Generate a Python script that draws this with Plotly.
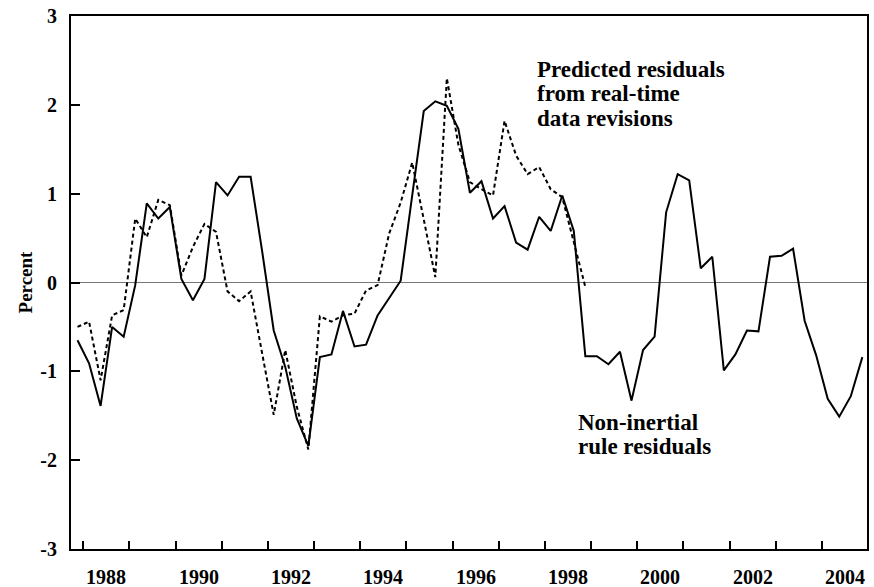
import plotly.graph_objects as go

# Quarterly observations
quarters = (["1987Q4"] +
            [f"{y}Q{q}" for y in range(1988, 2005) for q in range(1, 5)])

non_inertial = [
    -0.65,
    -0.91, -1.39, -0.50, -0.61,   # 1988
    -0.03, 0.89, 0.72, 0.85,      # 1989
    0.04, -0.20, 0.04, 1.13,      # 1990
    0.98, 1.19, 1.19, 0.35,       # 1991
    -0.54, -0.95, -1.53, -1.84,   # 1992
    -0.84, -0.81, -0.32, -0.72,   # 1993
    -0.70, -0.37, -0.17, 0.02,    # 1994
    0.98, 1.93, 2.04, 1.99,       # 1995
    1.73, 1.01, 1.14, 0.72,       # 1996
    0.86, 0.45, 0.37, 0.74,       # 1997
    0.58, 0.98, 0.58, -0.83,      # 1998
    -0.83, -0.92, -0.78, -1.33,   # 1999
    -0.76, -0.61, 0.79, 1.22,     # 2000
    1.15, 0.16, 0.29, -0.99,      # 2001
    -0.81, -0.54, -0.55, 0.29,    # 2002
    0.30, 0.38, -0.43, -0.82,     # 2003
    -1.31, -1.51, -1.28, -0.84,   # 2004
]

predicted = [
    -0.50,
    -0.44, -1.10, -0.37, -0.31,   # 1988
    0.72, 0.51, 0.93, 0.87,       # 1989
    0.08, 0.40, 0.66, 0.57,       # 1990
    -0.10, -0.21, -0.10, -0.80,   # 1991
    -1.49, -0.76, -1.40, -1.88,   # 1992
    -0.38, -0.44, -0.37, -0.35,   # 1993
    -0.09, -0.03, 0.55, 0.90,     # 1994
    1.35, 0.71, 0.06, 2.30,       # 1995
    1.55, 1.13, 1.05, 0.98,       # 1996
    1.82, 1.43, 1.22, 1.30,       # 1997
    1.05, 0.96, 0.45, -0.05,      # 1998
]

year_ticks = list(range(1988, 2005))
label_years = [1988, 1990, 1992, 1994, 1996, 1998, 2000, 2002, 2004]
y_ticks = [-3, -2, -1, 0, 1, 2, 3]

pred_label = ["Predicted residuals", "from real-time", "data revisions"]
pred_label_y = [2.40, 2.13, 1.85]
rule_label = ["Non-inertial", "rule residuals"]
rule_label_y = [-1.575, -1.845]


def to_decimal(q):
    year, qq = q.split("Q")
    return int(year) + (int(qq) - 0.5) / 4


x_all = [to_decimal(q) for q in quarters]
x_pred = x_all[:len(predicted)]

FONT = "Liberation Serif"
TXT = dict(family=FONT, size=23, color="black", weight="bold")

fig = go.Figure()
fig.add_trace(go.Scatter(
    x=x_all, y=non_inertial, mode="lines",
    line=dict(color="black", width=2),
    name="Non-inertial rule residuals", showlegend=False))
fig.add_trace(go.Scatter(
    x=x_pred, y=predicted, mode="lines",
    line=dict(color="black", width=2, dash="4px,3px"),
    name="Predicted residuals", showlegend=False))

for txt, yy in zip(pred_label, pred_label_y):
    fig.add_annotation(x=1997.78, y=yy, xref="x", yref="y",
                       xanchor="left", yanchor="middle", showarrow=False,
                       text=txt, font=TXT)
for txt, yy in zip(rule_label, rule_label_y):
    fig.add_annotation(x=1998.67, y=yy, xref="x", yref="y",
                       xanchor="left", yanchor="middle", showarrow=False,
                       text=txt, font=TXT)

# year labels sit between the yearly tick marks
for yr in label_years:
    fig.add_annotation(x=yr + 0.5, y=0, xref="x", yref="paper",
                       xanchor="center", yanchor="middle", yshift=-28,
                       showarrow=False, text=str(yr),
                       font=dict(family=FONT, size=20, color="black",
                                 weight="bold"))

fig.update_layout(
    width=874, height=587,
    margin=dict(l=71, r=5, t=15, b=38),
    paper_bgcolor="white", plot_bgcolor="white",
    font=dict(family=FONT, color="black"),
    xaxis=dict(
        range=[1987.734, 2004.976],
        tickmode="array",
        tickvals=year_ticks,
        ticktext=["" for _ in year_ticks],
        ticks="inside", ticklen=8, tickwidth=2, tickcolor="black",
        showgrid=False, zeroline=False,
        showline=True, linecolor="black", linewidth=2, mirror=True,
    ),
    yaxis=dict(
        range=[-3, 3],
        tickmode="array", tickvals=y_ticks,
        ticktext=[str(v) for v in y_ticks],
        ticks="inside", ticklen=9, tickwidth=2, tickcolor="black",
        ticklabelstandoff=8,
        showgrid=False,
        zeroline=True, zerolinecolor="#777777", zerolinewidth=1,
        showline=True, linecolor="black", linewidth=2, mirror=True,
        tickfont=dict(family=FONT, size=20, color="black", weight="bold"),
        title=dict(text="Percent", standoff=3,
                   font=dict(family=FONT, size=19, color="black",
                             weight="bold")),
    ),
)

fig.write_html("out.html", config={"displayModeBar": False},
               post_script="document.body.style.margin='0px';")
